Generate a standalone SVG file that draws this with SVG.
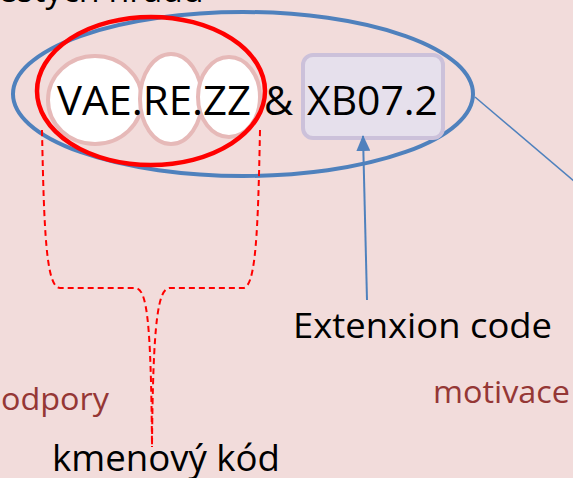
<svg xmlns="http://www.w3.org/2000/svg" width="573" height="478" viewBox="0 0 573 478">
<defs>
<style>
.t{font-family:"Open Sans","DejaVu Sans",sans-serif;fill:#000}
.m{font-family:"Open Sans","DejaVu Sans",sans-serif;fill:#953735}
.seg{fill:#fff;stroke:#e6b9b8;stroke-width:4}
.brace{fill:none;stroke:#ff0000;stroke-width:2;stroke-dasharray:6 4}
.blue{stroke:#4f81bd;fill:none}
</style>
<marker id="ah" viewBox="0 0 16 14" refX="15" refY="7" markerWidth="16" markerHeight="14" orient="auto" markerUnits="userSpaceOnUse">
<path d="M0,0 L16,7 L0,14 z" fill="#4f81bd"/>
</marker>
</defs>
<rect width="573" height="478" fill="#f2dcdb"/>
<text class="t" x="-2" y="2" font-size="34">estých hradů</text>
<g id="group-ellipse">
<ellipse cx="243" cy="94" rx="230" ry="82" fill="none" stroke="#4f81bd" stroke-width="4"/>
</g>
<g id="stem">
<ellipse class="seg" cx="95" cy="100" rx="47" ry="44"/>
<ellipse class="seg" cx="171" cy="99" rx="31" ry="45"/>
<ellipse class="seg" cx="229" cy="97" rx="31" ry="40"/>
<ellipse cx="151" cy="91" rx="114" ry="74" fill="none" stroke="#ff0000" stroke-width="4.5"/>
<text class="t" x="57" y="115" font-size="40" textLength="194" lengthAdjust="spacingAndGlyphs">VAE.RE.ZZ</text>
</g>
<g id="amp"><text class="t" x="264" y="115" font-size="40">&amp;</text></g>
<g id="ext">
<rect x="303" y="55" width="140" height="83" rx="10" fill="#e6e0ec" stroke="#ccc1da" stroke-width="4"/>
<text class="t" x="307" y="115" font-size="40" textLength="131" lengthAdjust="spacingAndGlyphs">XB07.2</text>
</g>
<g id="connectors">
<path class="brace" d="M42,130 C44,230 46,288 60,288 L135,288 C147,288 151,320 152,447"/>
<path class="brace" d="M260,130 C258,230 256,288 243,288 L170,288 C158,288 153,320 152,447"/>
<path class="blue" stroke-width="2" d="M367,300 L363,136" marker-end="url(#ah)"/>
<path class="blue" stroke-width="1.5" d="M475,97 L575,182"/>
</g>
<g id="labels">
<text class="t" x="293" y="338" font-size="35" textLength="259" lengthAdjust="spacingAndGlyphs">Extenxion code</text>
<text class="m" x="433" y="403" font-size="31" textLength="137" lengthAdjust="spacingAndGlyphs">motivace</text>
<text class="m" x="1" y="410" font-size="31" textLength="108" lengthAdjust="spacingAndGlyphs">odpory</text>
<text class="t" x="52" y="471" font-size="36" textLength="228" lengthAdjust="spacingAndGlyphs">kmenový kód</text>
</g>
</svg>
